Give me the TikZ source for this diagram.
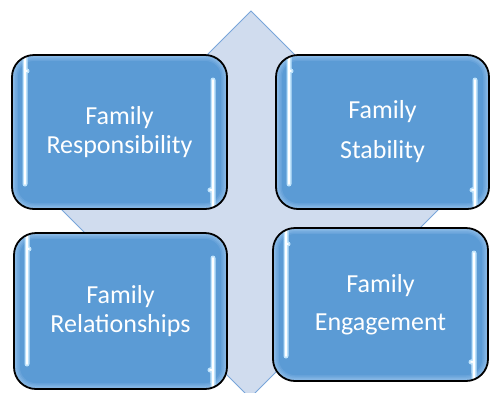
\documentclass[tikz,border=0pt]{standalone}
\usepackage{fontspec}
\newfontfamily\carlito{Carlito}
\definecolor{boxblue}{HTML}{5B9BD5}
\definecolor{boxedge}{HTML}{8EBCE8}
\definecolor{dfill}{HTML}{D0DCEE}
\definecolor{dline}{HTML}{78A5DA}
\definecolor{glow}{HTML}{BFE3FB}
\tikzset{
  glossbox/.style={
    rectangle, rounded corners=22pt, draw=black, line width=1.8pt,
    fill=boxedge, inner sep=0pt, text=white, align=center,
    font=\carlito\fontsize{26pt}{29pt}\selectfont,
    path picture={
      \foreach \ins/\mix in {1.5/25,3/50,4.5/75,6/100}{
        \fill[boxblue!\mix!boxedge, rounded corners=22pt-\ins pt]
          ([shift={(\ins pt,\ins pt)}]path picture bounding box.south west)
          rectangle ([shift={(-\ins pt,-\ins pt)}]path picture bounding box.north east);
      }
      \foreach \lw/\col in {5pt/glow, 1.6pt/white}{
        \draw[\col, line width=\lw, line cap=round, line join=round]
          ([shift={(15pt,-16pt)}]path picture bounding box.north west)
          .. controls ([shift={(13pt,-16.5pt)}]path picture bounding box.north west)
          .. ([shift={(13pt,-20pt)}]path picture bounding box.north west)
          -- ([shift={(13pt,25pt)}]path picture bounding box.south west);
        \draw[\col, line width=\lw, line cap=round, line join=round]
          ([shift={(-14pt,-25pt)}]path picture bounding box.north east)
          -- ([shift={(-14pt,24pt)}]path picture bounding box.south east)
          .. controls ([shift={(-14pt,20pt)}]path picture bounding box.south east)
          .. ([shift={(-17pt,19pt)}]path picture bounding box.south east);
      }
    }
  }
}
\begin{document}
\begin{tikzpicture}[x=1pt,y=-1pt]
\useasboundingbox (0,0) rectangle (490,392);
\draw[fill=dfill, draw=dline, line width=1pt] (251,11) -- (444,204) -- (250,398) -- (57,205) -- cycle;
\node[glossbox, minimum width=215pt, minimum height=154pt] (resp) at (119.5,132) {Family\\Responsibility};
\node[glossbox, minimum width=213pt, minimum height=154pt] (stab) at (382.5,132) {Family\\[11pt]Stability};
\node[glossbox, minimum width=213pt, minimum height=156pt] (rel) at (120.5,311) {Family\\Relationships};
\node[glossbox, minimum width=215pt, minimum height=153pt] (eng) at (380.5,304.5) {Family\\[9pt]Engagement};
\end{tikzpicture}
\end{document}
